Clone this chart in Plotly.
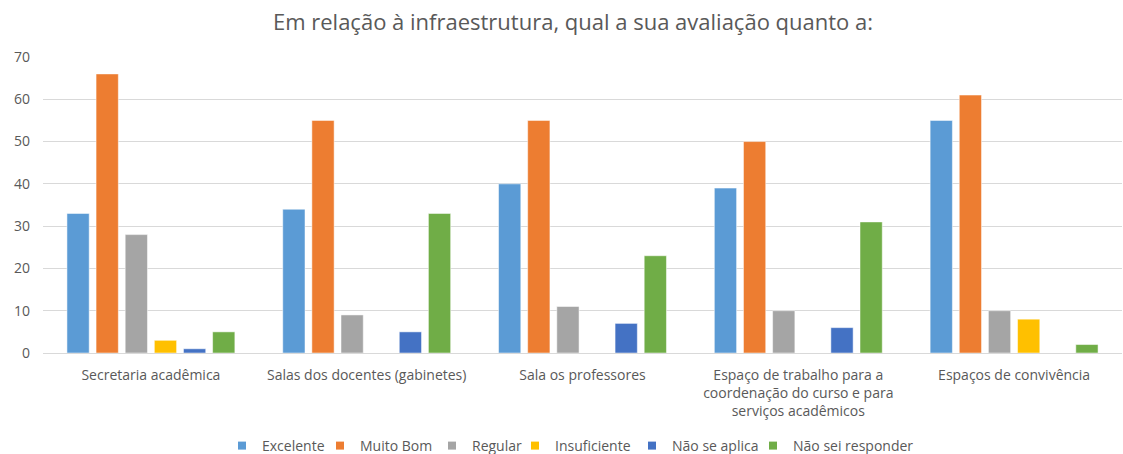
import plotly.graph_objects as go

categories = [
    "Secretaria acadêmica",
    "Salas dos docentes (gabinetes)",
    "Sala os professores",
    "Espaço de trabalho para a<br>coordenação do curso e para<br>serviços acadêmicos",
    "Espaços de convivência",
]
series_names = ["Excelente", "Muito Bom", "Regular", "Insuficiente", "Não se aplica", "Não sei responder"]
excelente = [33, 34, 40, 39, 55]
muito_bom = [66, 55, 55, 50, 61]
regular = [28, 9, 11, 10, 10]
insuficiente = [3, 0, 0, 0, 8]
nao_se_aplica = [1, 5, 7, 6, 0]
nao_sei = [5, 33, 23, 31, 2]
colors = ["#5B9BD5", "#ED7D31", "#A5A5A5", "#FFC000", "#4472C4", "#70AD47"]
y_ticks = [0, 10, 20, 30, 40, 50, 60, 70]

# legend text start positions (pixels in the 1123-wide page)
legend_text_x = [257, 355, 467, 550, 667, 788]

values = [excelente, muito_bom, regular, insuficiente, nao_se_aplica, nao_sei]
W, H = 1123, 454
TXT = "#595959"

fig = go.Figure()
legend_layouts = {}
for i, (name, vals, col) in enumerate(zip(series_names, values, colors)):
    lg = "legend" if i == 0 else f"legend{i+1}"
    fig.add_trace(go.Bar(
        name=name, x=categories, y=vals, showlegend=False, legendgroup=name,
        marker=dict(color=col, line=dict(width=0.5, color="white")),
    ))
    # legend-only marker (small square like the reference)
    fig.add_trace(go.Scatter(
        name=name, x=[None], y=[None], mode="markers", legendgroup=name,
        marker=dict(color=col, symbol="square", size=8), legend=lg, showlegend=True,
    ))
    legend_layouts[lg] = dict(
        xref="container", yref="container",
        x=(legend_text_x[i] - 35) / W, xanchor="left",
        y=1 - 446 / H, yanchor="middle",
        orientation="h", itemwidth=30,
        font=dict(size=14, color=TXT), bgcolor="rgba(0,0,0,0)",
    )

fig.update_layout(
    width=W, height=H,
    paper_bgcolor="white", plot_bgcolor="white",
    font=dict(family="Open Sans, Segoe UI, sans-serif", color=TXT, size=14),
    title=dict(text="Em relação à infraestrutura, qual a sua avaliação quanto a:",
               xref="container", x=573 / W, xanchor="center",
               yref="container", y=1 - 22 / H, yanchor="middle",
               font=dict(size=22, color=TXT)),
    barmode="group", bargap=0.19, bargroupgap=0.236,
    margin=dict(l=43, r=1, t=57, b=101, autoexpand=False),
    showlegend=True,
    **legend_layouts,
)
fig.update_yaxes(range=[0, 70], tickvals=y_ticks, showgrid=True, gridcolor="#D9D9D9",
                 gridwidth=1, zeroline=False, showline=False, ticks="",
                 ticklabelstandoff=12, automargin=False,
                 tickfont=dict(size=14, color=TXT))
fig.update_xaxes(showline=True, linecolor="#D9D9D9", linewidth=1, ticks="",
                 ticklabelstandoff=9, automargin=False,
                 tickfont=dict(size=14, color=TXT), tickangle=0)

fig.write_html("out.html", config={"displayModeBar": False},
               post_script="document.body.style.margin='0px';document.body.style.overflow='hidden';")
